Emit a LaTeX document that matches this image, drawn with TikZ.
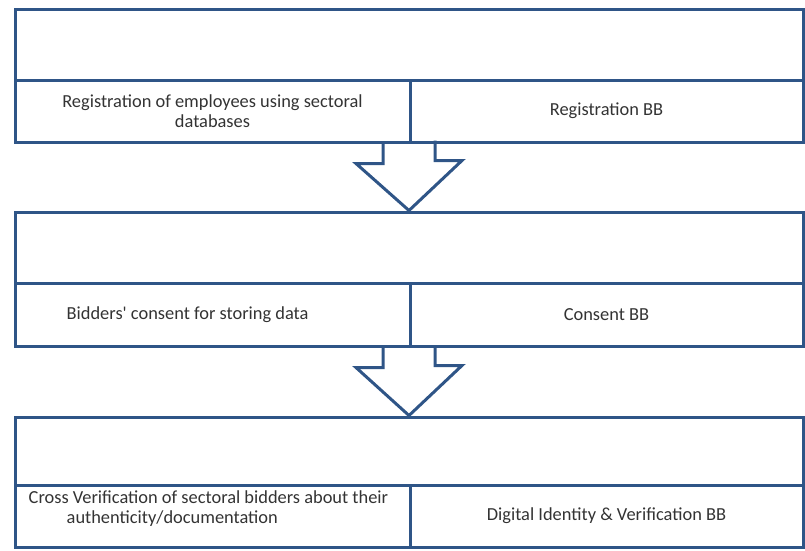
\documentclass[tikz,border=0pt]{standalone}
\usepackage{fontspec}
\setmainfont{Carlito}
\usetikzlibrary{calc}

\definecolor{bbblue}{HTML}{2F5587}
\definecolor{bbtext}{HTML}{333333}

\begin{document}
\begin{tikzpicture}[x=1pt, y=-1pt, line join=miter,
    hdr/.style={draw=bbblue, line width=3pt, rectangle, minimum width=788pt, minimum height=71pt, inner sep=0pt},
    cell/.style={draw=bbblue, line width=3pt, rectangle, minimum height=62pt, inner sep=0pt, align=center,
      text=bbtext, font=\fontsize{18.4}{20}\selectfont},
    txt/.style={text=bbtext, font=\fontsize{18.4}{20}\selectfont, inner sep=0pt, align=left},
    bbarrow/.style={draw=bbblue, line width=3pt}]

    \useasboundingbox (0,0) rectangle (805,550);

    % Step 1: registration
    \node[hdr] (h1) at (409,44.5) {};
    \node[cell, minimum width=395pt] (c1l) at (212.5,111) {Registration of employees using sectoral\\databases};
    \node[cell, minimum width=393pt] (c1r) at (606.5,111) {Registration BB};

    % Step 2: consent
    \node[hdr] (h2) at (409,247.5) {};
    \node[cell, minimum width=395pt, minimum height=63pt] (c2l) at (212.5,314.5) {};
    \node[cell, minimum width=393pt, minimum height=63pt] (c2r) at (606.5,314.5) {Consent BB};
    \node[txt, anchor=west] (t2l) at ([xshift=53pt]c2l.west) {Bidders\textquotesingle{} consent for storing data};

    % Step 3: verification
    \node[hdr, minimum height=68pt] (h3) at (409,451) {};
    \node[cell, minimum width=395pt] (c3l) at (212.5,516) {};
    \node[cell, minimum width=393pt] (c3r) at (606.5,516) {Digital Identity \& Verification BB};
    \node[txt, anchor=west] (t3l) at ([xshift=15pt, yshift=7.5pt]c3l.west)
      {Cross Verification of sectoral bidders about their\\\hspace*{38pt}authenticity/documentation};

    % Block arrows between the steps
    \foreach \c/\h in {c1l/h2, c2l/h3}
      \draw[bbarrow] ($(\h.north |- \c.south)+(-26,0)$) -- ++(0,20) -- ++(-27,0)
        -- (\h.north) -- ++(53,-50) -- ++(-27,0) -- ++(0,-20);

\end{tikzpicture}
\end{document}
